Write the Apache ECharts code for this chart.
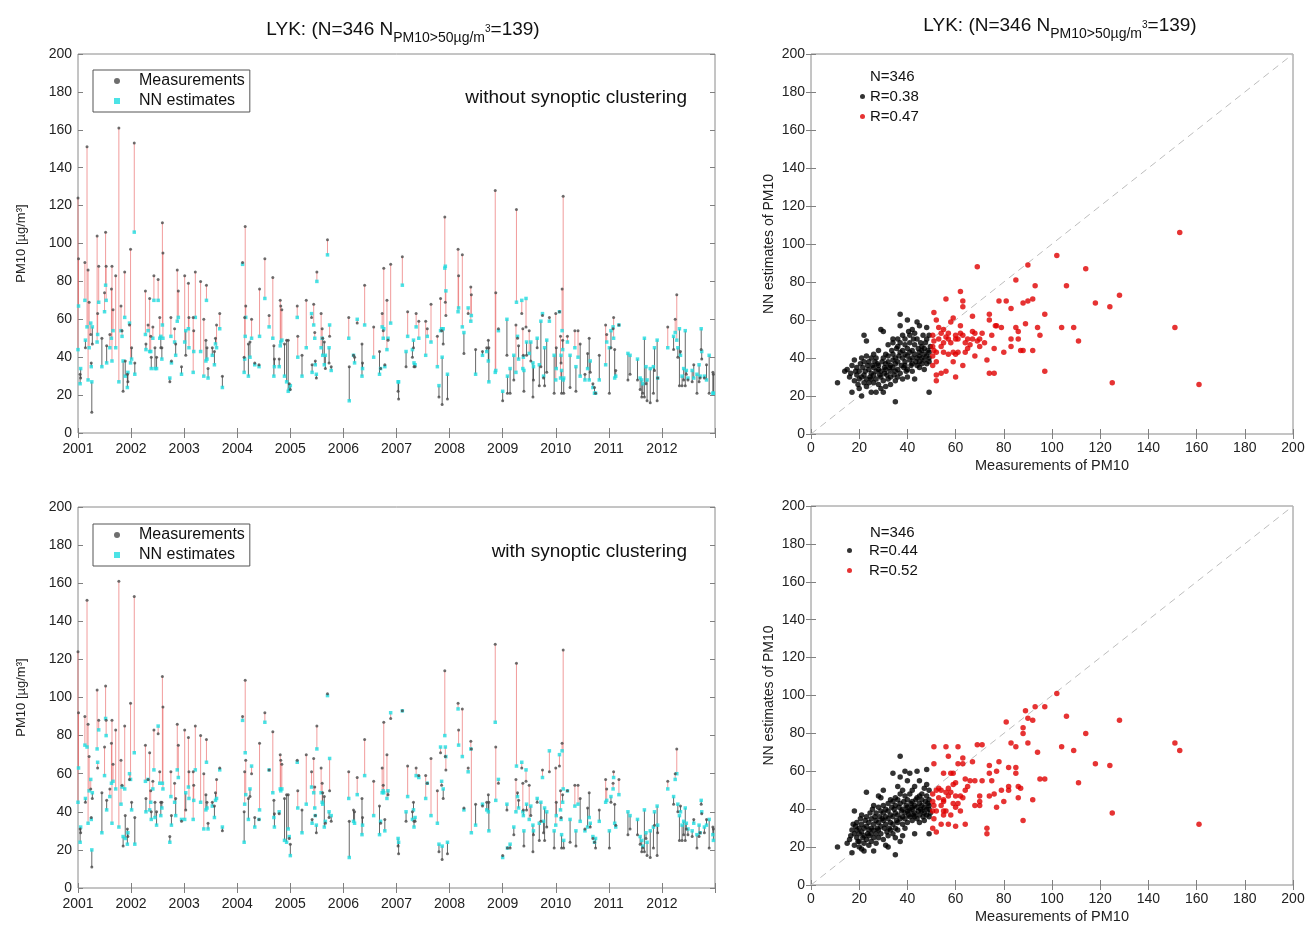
<!DOCTYPE html>
<html>
<head>
<meta charset="utf-8">
<script src="https://cdn.jsdelivr.net/npm/echarts@6/dist/echarts.min.js"></script>
<style>html,body{margin:0;padding:0;background:#fff;}#c{width:1311px;height:925px;}</style>
</head>
<body>
<div id="c"></div>
<script>
// ---------------- DATA ----------------
// Time series: dates (decimal years), PM10 measurements, NN estimates without / with synoptic clustering
const dates = [
  2001.00,2001.01,2001.04,2001.05,2001.13,2001.14,2001.17,2001.19,2001.21,2001.24,2001.25,2001.26,2001.27,2001.36,2001.37,2001.39,2001.45,2001.50,2001.52,2001.53,2001.54,2001.60,2001.63,2001.64,2001.66,2001.71,2001.77,2001.81,2001.83,2001.85,2001.88,2001.89,2001.93,2001.94,2001.97,2001.99,
  2002.01,2002.06,2002.07,2002.27,2002.28,2002.32,2002.35,2002.37,2002.38,2002.41,2002.43,2002.45,2002.48,2002.51,2002.54,2002.56,2002.58,2002.59,2002.60,2002.73,2002.75,2002.76,2002.82,2002.84,2002.87,2002.89,2002.95,
  2003.01,2003.03,2003.08,2003.09,2003.17,2003.18,2003.21,2003.31,2003.37,2003.41,2003.42,2003.43,2003.45,2003.53,2003.57,2003.59,2003.61,2003.67,2003.72,
  2004.10,2004.13,2004.14,2004.15,2004.16,2004.21,2004.24,2004.27,2004.33,2004.41,2004.42,2004.52,2004.60,2004.67,2004.69,2004.70,2004.79,2004.81,2004.82,2004.84,2004.89,2004.93,2004.96,2004.98,
  2005.00,2005.13,2005.14,2005.22,2005.30,2005.40,2005.41,2005.44,2005.46,2005.47,2005.49,2005.50,2005.58,2005.60,2005.61,2005.64,2005.66,2005.70,2005.73,2005.74,2005.77,
  2006.10,2006.11,2006.19,2006.21,2006.26,2006.35,2006.36,2006.40,2006.57,2006.68,2006.70,2006.73,2006.75,2006.76,2006.78,2006.82,2006.84,2006.89,
  2007.03,2007.04,2007.11,2007.18,2007.21,2007.30,2007.32,2007.33,2007.35,2007.37,2007.42,2007.55,2007.58,2007.65,2007.77,2007.80,2007.83,2007.85,2007.86,2007.88,2007.91,2007.92,2007.93,2007.96,
  2008.16,2008.17,2008.24,2008.27,2008.35,2008.40,2008.41,2008.49,2008.62,2008.70,2008.73,2008.74,2008.86,2008.87,2008.92,
  2009.00,2009.08,2009.09,2009.14,2009.21,2009.25,2009.26,2009.28,2009.30,2009.36,2009.38,2009.39,2009.40,2009.44,2009.45,2009.50,2009.53,2009.57,2009.58,2009.65,2009.69,2009.72,2009.75,2009.77,2009.79,2009.83,2009.88,2009.97,
  2010.00,2010.01,2010.07,2010.09,2010.10,2010.11,2010.12,2010.13,2010.14,2010.15,2010.22,2010.27,2010.36,2010.38,2010.42,2010.46,2010.55,2010.60,2010.63,2010.65,2010.70,2010.73,2010.75,2010.82,2010.94,2010.96,
  2011.01,2011.04,2011.08,2011.09,2011.11,2011.13,2011.19,2011.36,2011.40,2011.54,2011.59,2011.62,2011.64,2011.67,2011.70,2011.72,2011.78,2011.84,2011.86,2011.91,2011.92,
  2012.11,2012.22,2012.25,2012.28,2012.30,2012.33,2012.35,2012.38,2012.41,2012.44,2012.46,2012.49,2012.57,2012.60,2012.66,2012.70,2012.72,2012.74,2012.75,2012.80,2012.84,2012.89,2012.96,2012.97
];
const measurements = [
  124,92,31,29,90,45,151,86,69,52,37,11,47,104,63,88,50,74,106,88,46,52,76,88,65,83,161,67,54,22,85,38,31,27,57,97,
  45,153,37,75,47,57,71,51,40,56,83,45,40,81,61,45,45,111,95,27,61,38,55,47,86,75,35,
  83,41,79,61,61,54,85,80,60,49,78,45,34,45,43,50,57,63,30,
  90,40,61,109,67,47,48,60,37,36,76,92,62,82,46,39,39,70,67,65,47,49,49,26,
  23,67,51,41,70,61,36,68,53,38,29,85,63,55,50,48,34,102,37,51,35,
  61,35,41,40,58,47,37,78,56,43,34,63,54,87,36,70,49,89,
  22,18,93,35,64,40,45,35,35,63,59,59,55,68,51,19,71,54,15,47,114,69,62,18,
  97,83,94,42,63,77,73,44,43,45,49,45,128,74,55,
  17,41,21,21,28,57,118,50,46,63,55,41,22,56,41,54,38,19,28,45,25,35,62,29,25,32,61,21,
  63,45,64,51,37,21,76,49,125,21,51,24,54,22,54,47,31,42,50,32,26,24,21,41,57,52,
  21,45,55,61,44,33,57,28,31,28,23,19,21,19,26,17,16,21,33,17,29,
  56,44,60,73,40,25,43,25,28,25,31,28,27,36,21,27,29,44,39,29,36,21,32,31
];
const estimatesWithout = [
  44,67,26,34,70,49,56,28,45,58,35,27,56,48,52,69,35,64,78,70,37,45,50,38,54,45,27,54,51,38,61,30,24,32,58,37,
  39,106,31,52,44,54,43,43,34,50,70,34,34,70,50,51,39,57,50,29,51,37,48,41,59,61,31,
  48,54,55,45,32,43,61,43,30,38,70,39,29,41,36,47,45,55,24,
  89,32,39,51,61,30,40,50,36,35,51,71,56,50,30,35,35,46,48,49,30,27,22,23,
  25,61,40,30,45,63,32,57,50,36,31,80,45,50,41,36,41,94,45,57,33,
  50,17,41,37,60,30,34,57,40,31,34,56,50,55,35,44,50,58,
  27,27,78,43,51,44,49,37,36,56,50,41,51,48,35,25,54,55,40,55,87,88,75,31,
  64,66,56,53,66,59,62,31,41,43,38,27,32,33,54,
  22,60,30,34,41,32,69,51,39,70,34,40,33,71,48,42,48,37,35,50,36,59,63,30,45,49,59,41,
  28,34,64,29,41,33,54,44,28,29,48,41,45,35,40,30,28,34,28,38,24,21,21,28,36,48,
  45,54,56,50,29,30,57,42,41,39,29,28,26,50,35,28,34,35,45,49,29,
  45,51,53,49,45,55,41,30,34,54,33,29,33,29,31,36,30,55,43,30,28,41,21,21
];
const estimatesWith = [
  45,63,24,32,75,47,74,34,51,57,36,20,50,73,66,83,29,59,89,80,41,48,55,34,56,52,32,44,53,27,52,26,23,29,60,57,
  41,71,23,56,40,57,41,45,36,52,62,37,33,85,55,38,42,55,52,24,48,33,45,38,62,58,36,
  36,50,53,47,36,46,62,45,31,41,66,42,31,43,37,46,47,62,32,
  88,24,44,71,49,36,52,64,32,36,41,87,62,50,37,32,40,52,51,52,25,24,31,27,
  17,66,42,29,44,53,34,50,42,38,33,73,50,45,44,32,35,101,40,68,38,
  47,16,35,34,49,28,33,59,38,28,35,50,51,50,30,47,51,92,
  26,24,93,40,48,36,41,32,37,59,58,47,55,38,34,23,74,56,22,52,80,74,69,24,
  94,75,69,41,61,73,29,33,44,41,40,30,87,46,57,
  16,44,21,23,32,40,64,48,42,66,40,38,30,62,44,36,43,33,30,47,34,45,58,35,42,40,72,30,
  33,38,70,41,36,28,72,45,52,25,51,36,43,30,44,35,30,32,37,34,27,24,26,35,45,46,
  30,48,52,58,34,32,49,40,38,36,27,25,22,41,29,24,30,32,40,43,33,
  52,48,57,60,44,38,40,33,35,42,34,31,30,34,28,33,29,46,40,32,33,36,28,25
];
// Scatter panels: [measurement, NN estimate]
const scatterTopBlack = [[11,27],[14,33],[15,34],[16,30],[16.5,32],[17,22],[17,36],[18,39],[18,28],[18.5,33],[19,31],[19,35],[19.5,26],[20,33],[20,29],[20.5,37],[20,24],[21,20],[21,30],[21.5,35],[21,40],[22,52],[22,27],[22.5,33],[22,38],[22,31],[23,49],[23,29],[23.5,36],[23,41],[23,25],[24,34],[24.5,30],[24,38],[24,27],[25,32],[25.5,36],[25,40],[25,29],[25,22],[26,35],[26.5,38],[26,31],[26,27],[26,42],[27,33],[27.5,37],[27,29],[27,22],[27,40],[28,36],[28.5,31],[28,34],[28,44],[28,26],[29,55],[29,30],[29.5,38],[29,33],[29,24],[30,54],[30,22],[30.5,35],[30,40],[30,28],[30.5,32],[31,25],[31,37],[31.5,31],[31,42],[31,34],[32,29],[32.5,35],[32,38],[32,47],[32,41],[33,26],[33,33],[33.5,44],[33,36],[33,30],[34,39],[34,48],[34.5,31],[34,42],[34,35],[34,50],[35,17],[35,37],[35.5,45],[35,33],[35,40],[35,28],[36,50],[36,34],[36.5,41],[36,38],[36,46],[36,30],[37,63],[37,57],[37.5,36],[37,43],[37,32],[37,48],[38,40],[38,52],[38.5,35],[38,44],[38,29],[39,38],[39,47],[39.5,33],[39,42],[39,50],[39,36],[40,60],[40,41],[40.5,54],[40,34],[40,45],[40,30],[41,39],[41,48],[41.5,36],[41,52],[41,43],[42,44],[42,37],[42.5,50],[42,40],[42,33],[42,55],[43,42],[43,47],[43.5,38],[43,53],[43,29],[44,59],[44,40],[44.5,45],[44,36],[44,50],[45,43],[45,38],[45.5,48],[45,41],[45,35],[45,57],[46,40],[46,46],[46.5,52],[46,37],[46,44],[47,42],[47,39],[47.5,48],[47,34],[47,45],[48,56],[48,41],[48.5,44],[48,37],[48,50],[49,22],[49,40],[49.5,46],[49,38],[49,43],[49,52]];
const scatterTopRed = [[153,106],[161,26],[151,56],[125,27],[128,73],[124,67],[118,69],[114,87],[111,49],[109,56],[106,78],[104,56],[102,94],[97,63],[97,33],[95,52],[94,56],[93,78],[92,44],[92,71],[90,89],[89,58],[90,70],[88,69],[88,44],[87,44],[86,50],[85,56],[86,54],[85,81],[83,50],[83,46],[83,66],[81,70],[80,43],[79,56],[78,70],[77,57],[76.5,57],[76,45],[76,32],[75,52],[74,32],[74,63],[74,60],[73,39],[71,53],[70,50],[69,88],[69,49],[68,41],[67,50],[67,62],[67,54],[65,50],[64,48],[63,36],[63,70],[63,67],[62,75],[62,57],[61,50],[60,52],[60,30],[60,50],[59,61],[58,59],[57,53],[56,33],[56,71],[55,43],[55,48],[54,53],[54,32],[53,50],[52,28],[52,31],[51,44],[51,64],[50.5,52],[50.5,41],[50.5,36],[57,42],[59,43],[60,42],[54,46],[52,38],[52,43],[62,53],[64,43],[70,46],[68,53],[57,50],[56,51],[61,43],[50.5,46],[53,56],[52,60],[58,48],[66,47],[55,55],[59,38],[51,49],[63,52],[65,45],[72,48]];
const scatterBottomBlack = [[11,20],[15,22],[16,24],[16.5,26],[17,17],[17,29],[17.5,32],[18,39],[18,21],[18.5,31],[18,27],[19,25],[19,33],[19.5,23],[19,29],[20,23],[20,30],[20.5,35],[20,27],[20,20],[21,28],[21,32],[21.5,25],[21,37],[21,19],[22,18],[22,30],[22.5,34],[22,26],[22,22],[23,49],[23,31],[23.5,27],[23,36],[23,24],[24,33],[24,29],[24.5,38],[24,26],[24,21],[25,35],[25,30],[25.5,40],[25,27],[25,23],[26,18],[26,32],[26.5,36],[26,29],[26,42],[26,25],[27,34],[27,38],[27.5,30],[27,27],[27,22],[28,47],[28,33],[28.5,36],[28,29],[28,41],[28,25],[29,46],[29,31],[29.5,35],[29,39],[29,27],[30,50],[30,34],[30.5,30],[30,38],[30,24],[30,42],[31,32],[31,36],[31.5,28],[31,40],[31,21],[32,35],[32,39],[32.5,30],[32,43],[32,26],[32,20],[33,37],[33,33],[33.5,41],[33,29],[33,45],[34,59],[34,36],[34.5,40],[34,32],[34,44],[34,27],[35,16],[35,38],[35.5,34],[35,42],[35,30],[35,46],[35,25],[36,52],[36,37],[36.5,41],[36,33],[36,45],[36,29],[37,68],[37,57],[37.5,39],[37,35],[37,43],[37,48],[37,23],[38,40],[38,36],[38.5,44],[38,50],[38,32],[38,26],[39,60],[39,38],[39.5,42],[39,35],[39,47],[39,30],[40,55],[40,41],[40.5,37],[40,45],[40,33],[40,39],[41,59],[41,39],[41.5,43],[41,36],[41,48],[42,40],[42,44],[42.5,37],[42,50],[42,34],[42,41],[43,38],[43,42],[43.5,45],[43,36],[43,52],[43,27],[44,60],[44,41],[44.5,39],[44,46],[44,35],[45,43],[45,37],[45.5,40],[45,47],[45,33],[45,55],[46,39],[46,42],[46.5,36],[46,48],[46,45],[47,41],[47,38],[47.5,44],[47,34],[47,51],[48,61],[48,40],[48.5,43],[48,37],[48,53],[48,47],[49,27],[49,42],[49.5,38],[49,45],[49,36],[49,50],[49,40]];
const scatterBottomRed = [[151,75],[153,71],[161,32],[128,87],[124,63],[125,38],[118,64],[114,80],[111,54],[109,71],[106,89],[104,73],[102,101],[97,94],[97,56],[95,56],[94,70],[93,94],[92,45],[92,87],[90,88],[90,75],[89,92],[88,83],[88,80],[88,34],[87,51],[86,46],[86,52],[85,73],[85,62],[85,59],[83,75],[82,62],[82,52],[82,50],[81,86],[80,44],[79,50],[78,65],[77,60],[77,41],[76,48],[75,55],[74,47],[74,59],[74,63],[73,30],[73,27],[71,74],[71,55],[70,42],[70,44],[69,74],[70,47],[68,55],[68,42],[67,65],[65,52],[64,56],[64,32],[63,67],[63,64],[62,47],[61,64],[61,73],[60,47],[60,31],[60,54],[59,59],[58,59],[57,51],[57,32],[57,68],[56,73],[55,45],[55,59],[55,37],[55,39],[54,50],[54,32],[52,28],[52,50],[51,73],[51,64],[51,42],[51,35],[50.5,39],[50.5,44],[50.5,30],[57,47],[58,49],[56,49],[60,41],[55,44],[53,51],[59,43],[62,39],[56,39],[58,37],[52,39],[64,50],[61,43],[53,46],[66,55],[50.5,48],[54,42],[59,53],[63,46]];
const yTicks = [0,20,40,60,80,100,120,140,160,180,200];
const yearTicks = [2001,2002,2003,2004,2005,2006,2007,2008,2009,2010,2011,2012];

// ---------------- CHART ----------------
const font = 'Liberation Sans, Arial, Helvetica, sans-serif';
const chart = echarts.init(document.getElementById('c'), null, {renderer: 'canvas'});
const tickStyle = {lineStyle: {color: '#808080', width: 1}};
const labelColor = '#222';
const squareIcon = 'path://M0,0L10,0L10,10L0,10Z';

const grids = [
  {left: 78, top: 54, width: 637, height: 379},
  {left: 811, top: 54, width: 482, height: 380},
  {left: 78, top: 507, width: 637, height: 381},
  {left: 811, top: 506, width: 482, height: 382}
].map(g => Object.assign({show: true, borderColor: '#8a8a8a', borderWidth: 1, containLabel: false}, g));

function xTime(gi) {
  return [
    {gridIndex: gi, type: 'value', min: 2001, max: 2013, interval: 1, position: 'bottom',
      axisLine: {show: false}, splitLine: {show: false},
      axisTick: Object.assign({inside: true, length: 5}, tickStyle),
      axisLabel: {color: labelColor, fontSize: 14, fontFamily: font, margin: 9,
        formatter: v => (yearTicks.indexOf(v) >= 0 ? String(v) : '')}},
    {gridIndex: gi, type: 'value', min: 2001, max: 2013, interval: 1, position: 'top',
      axisLine: {show: false}, splitLine: {show: false},
      axisTick: Object.assign({inside: true, length: 5}, tickStyle), axisLabel: {show: false}}
  ];
}
function xScatter(gi) {
  return [
    {gridIndex: gi, type: 'value', min: 0, max: 200, interval: 20, position: 'bottom',
      name: 'Measurements of PM10', nameLocation: 'middle', nameGap: 24,
      nameTextStyle: {color: labelColor, fontSize: 14.5, fontFamily: font},
      axisLine: {show: false}, splitLine: {show: false},
      axisTick: Object.assign({inside: true, length: 5}, tickStyle),
      axisLabel: {color: labelColor, fontSize: 14, fontFamily: font, margin: 7}},
    {gridIndex: gi, type: 'value', min: 0, max: 200, interval: 20, position: 'top',
      axisLine: {show: false}, splitLine: {show: false},
      axisTick: Object.assign({inside: true, length: 5}, tickStyle), axisLabel: {show: false}}
  ];
}
function yAxes(gi, name, gap, size) {
  return [
    {gridIndex: gi, type: 'value', min: 0, max: 200, interval: 20, position: 'left',
      name: name, nameLocation: 'middle', nameGap: gap,
      nameTextStyle: {color: labelColor, fontSize: size, fontFamily: font},
      axisLine: {show: false}, splitLine: {show: false},
      axisTick: Object.assign({inside: true, length: 5}, tickStyle),
      axisLabel: {color: labelColor, fontSize: 14, fontFamily: font, margin: 6,
        formatter: v => (yTicks.indexOf(v) >= 0 ? String(v) : '')}},
    {gridIndex: gi, type: 'value', min: 0, max: 200, interval: 20, position: 'right',
      axisLine: {show: false}, splitLine: {show: false},
      axisTick: Object.assign({inside: true, length: 5}, tickStyle), axisLabel: {show: false}}
  ];
}

function renderStem(params, api) {
  const x = api.value(0), m = api.value(1), e = api.value(2);
  const p1 = api.coord([x, m]);
  const p2 = api.coord([x, e]);
  return {
    type: 'line',
    shape: {x1: p1[0], y1: p1[1], x2: p2[0], y2: p2[1]},
    style: {stroke: m > 50 ? 'rgba(232,90,90,0.6)' : 'rgba(45,45,45,0.72)', lineWidth: 1}
  };
}
function tsSeries(ax, est) {
  return [
    {type: 'custom', xAxisIndex: ax, yAxisIndex: ax, renderItem: renderStem, silent: true, z: 1,
      encode: {x: 0, y: [1, 2]},
      data: dates.map((d, i) => [d, measurements[i], est[i]])},
    {name: 'NN estimates', type: 'scatter', xAxisIndex: ax, yAxisIndex: ax, symbol: 'rect', symbolSize: 3.5,
      itemStyle: {color: '#1fdce0'}, silent: true, z: 3,
      data: dates.map((d, i) => [d, est[i]])},
    {name: 'Measurements', type: 'scatter', xAxisIndex: ax, yAxisIndex: ax, symbol: 'circle', symbolSize: 3,
      itemStyle: {color: '#4a4a4a'}, silent: true, z: 4,
      data: dates.map((d, i) => [d, measurements[i]])}
  ];
}
function scSeries(ax, black, red, nb, nr) {
  return [
    {type: 'line', xAxisIndex: ax, yAxisIndex: ax, data: [[0, 0], [200, 200]], symbol: 'none', silent: true, z: 1,
      lineStyle: {color: '#bdbdbd', width: 1, type: [7, 5]}},
    {name: nb, type: 'scatter', xAxisIndex: ax, yAxisIndex: ax, data: black, symbol: 'circle', symbolSize: 5.5,
      itemStyle: {color: '#000'}, silent: true, z: 3},
    {name: nr, type: 'scatter', xAxisIndex: ax, yAxisIndex: ax, data: red, symbol: 'circle', symbolSize: 5.5,
      itemStyle: {color: '#e00000'}, silent: true, z: 3}
  ];
}

const titleRich = {
  a: {fontSize: 19, fontWeight: 'normal', fontFamily: font, color: '#111', lineHeight: 24, verticalAlign: 'top'},
  s: {fontSize: 14, fontWeight: 'normal', fontFamily: font, color: '#111', lineHeight: 16, padding: [11, 0, 0, 0], verticalAlign: 'top'},
  p: {fontSize: 10, fontWeight: 'normal', fontFamily: font, color: '#111', lineHeight: 11, padding: [4, 0, 0, 0], verticalAlign: 'top'}
};
const titleText = '{a|LYK: (N=346 N}{s|PM10>50µg/m}{p|3}{a|=139)}';

const tsLegend = (top) => ({
  data: [{name: 'Measurements', icon: 'circle'}, {name: 'NN estimates', icon: squareIcon}],
  orient: 'vertical', left: 93, top: top, selectedMode: false,
  borderColor: '#555', borderWidth: 1, backgroundColor: '#fff',
  padding: [2, 5, 2, 21], itemWidth: 6, itemHeight: 6, itemGap: 2,
  textStyle: {fontSize: 16, color: '#111', fontFamily: font, lineHeight: 18, padding: [0, 0, 0, 14]}
});
const scLegend = (names, left, top, pad) => ({
  data: names.map(n => ({name: n, icon: 'circle'})),
  orient: 'vertical', left: left, top: top, selectedMode: false,
  padding: 0, itemWidth: 5, itemHeight: 5, itemGap: 3,
  textStyle: {fontSize: 15, color: '#111', fontFamily: font, lineHeight: 17, padding: [0, 0, 0, pad]}
});

const option = {
  backgroundColor: '#fff',
  animation: false,
  title: [
    {text: titleText, left: 398, top: 15, textAlign: 'center', textStyle: {fontWeight: 'normal', rich: titleRich}},
    {text: titleText, left: 1055, top: 11, textAlign: 'center', textStyle: {fontWeight: 'normal', rich: titleRich}}
  ],
  grid: grids,
  xAxis: [].concat(xTime(0), xScatter(1), xTime(2), xScatter(3)),
  yAxis: [].concat(yAxes(0, 'PM10 [µg/m³]', 50, 13), yAxes(1, 'NN estimates of PM10', 35, 14),
                   yAxes(2, 'PM10 [µg/m³]', 50, 13), yAxes(3, 'NN estimates of PM10', 35, 14)),
  legend: [
    tsLegend(70),
    tsLegend(524),
    scLegend(['R=0.38', 'R=0.47'], 860, 88, 0),
    scLegend(['R=0.44', 'R=0.52'], 847, 542, 12)
  ],
  graphic: [
    {type: 'text', x: 687, y: 98, style: {text: 'without synoptic clustering', font: '19px ' + font, fill: '#111',
      textAlign: 'right', textVerticalAlign: 'middle', align: 'right', verticalAlign: 'middle'}},
    {type: 'text', x: 687, y: 552, style: {text: 'with synoptic clustering', font: '19px ' + font, fill: '#111',
      textAlign: 'right', textVerticalAlign: 'middle', align: 'right', verticalAlign: 'middle'}},
    {type: 'text', x: 870, y: 77, style: {text: 'N=346', font: '15px ' + font, fill: '#111',
      textVerticalAlign: 'middle', verticalAlign: 'middle'}},
    {type: 'text', x: 870, y: 533, style: {text: 'N=346', font: '15px ' + font, fill: '#111',
      textVerticalAlign: 'middle', verticalAlign: 'middle'}}
  ],
  series: [].concat(
    tsSeries(0, estimatesWithout),
    scSeries(2, scatterTopBlack, scatterTopRed, 'R=0.38', 'R=0.47'),
    tsSeries(4, estimatesWith),
    scSeries(6, scatterBottomBlack, scatterBottomRed, 'R=0.44', 'R=0.52')
  )
};
chart.setOption(option);
</script>
</body>
</html>
